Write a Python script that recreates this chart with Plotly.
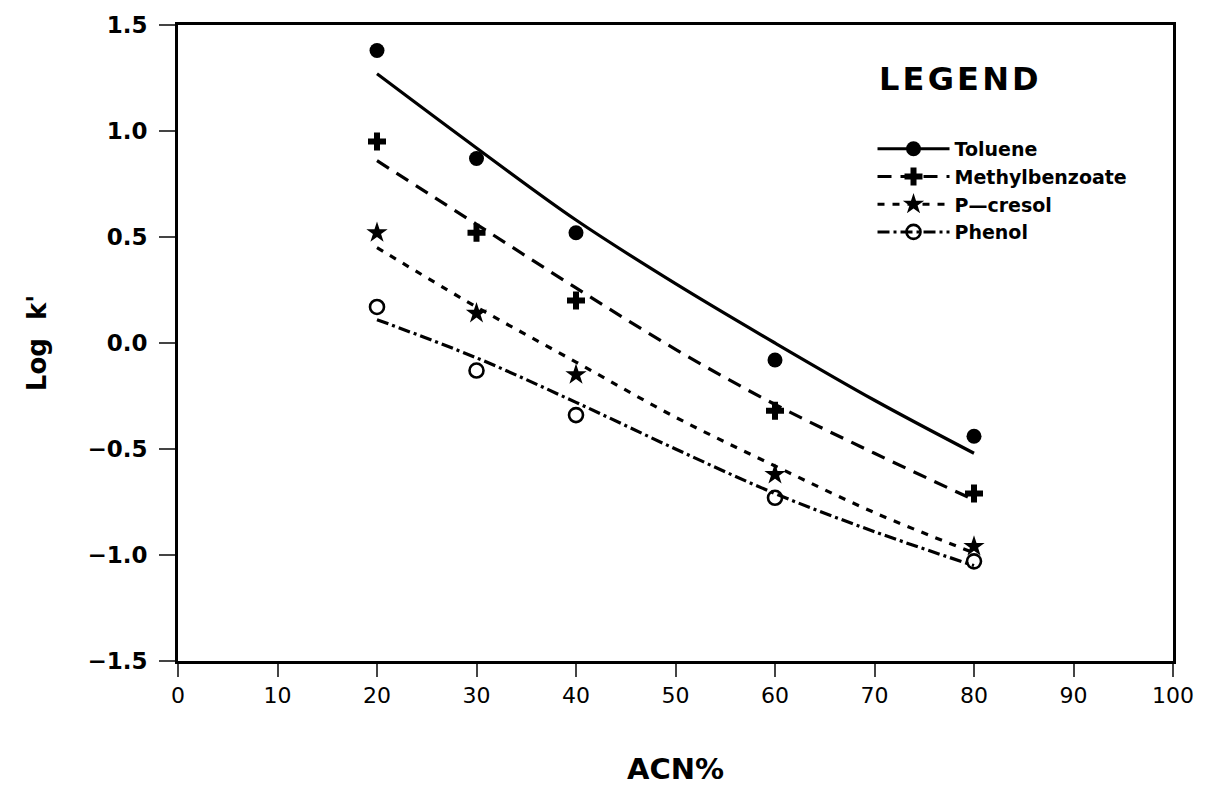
import plotly.graph_objects as go

# Measured retention (log k') versus acetonitrile content
acn = [20, 30, 40, 60, 80]
toluene = [1.38, 0.87, 0.52, -0.08, -0.44]
methylbenzoate = [0.95, 0.52, 0.20, -0.32, -0.71]
p_cresol = [0.52, 0.14, -0.15, -0.62, -0.96]
phenol = [0.17, -0.13, -0.34, -0.73, -1.03]

# Fitted curves, read at 10 % steps
fit_acn = [20, 30, 40, 50, 60, 70, 80]
toluene_fit = [1.27, 0.92, 0.58, 0.28, 0.00, -0.27, -0.52]
methylbenzoate_fit = [0.86, 0.56, 0.26, -0.03, -0.29, -0.52, -0.74]
p_cresol_fit = [0.45, 0.17, -0.09, -0.35, -0.58, -0.80, -0.99]
phenol_fit = [0.11, -0.07, -0.28, -0.50, -0.71, -0.89, -1.05]

x_ticks = [0, 10, 20, 30, 40, 50, 60, 70, 80, 90, 100]
y_ticks = [-1.5, -1.0, -0.5, 0.0, 0.5, 1.0, 1.5]

series = [
    ("Toluene", toluene, toluene_fit, "solid", "circle", 15),
    ("Methylbenzoate", methylbenzoate, methylbenzoate_fit, "14px,9px", "cross", 15),
    ("P\u2014cresol", p_cresol, p_cresol_fit, "7px,8px", "star", 16),
    ("Phenol", phenol, phenol_fit, "12px,4px,3px,4px", "circle-open", 14),
]

FONT = "DejaVu Sans, Verdana, sans-serif"

fig = go.Figure()
for name, pts, fit, dash, symbol, size in series:
    fig.add_trace(go.Scatter(
        x=fit_acn, y=fit, mode="lines", line=dict(color="black", width=3.2, dash=dash, shape="spline"),
        showlegend=False, hoverinfo="skip",
    ))
    if symbol == "circle-open":
        marker = dict(symbol=symbol, size=size, color="black", line=dict(color="black", width=2.6))
    else:
        marker = dict(symbol=symbol, size=size, color="black", line=dict(width=0))
    fig.add_trace(go.Scatter(x=acn, y=pts, mode="markers", marker=marker, showlegend=False))
    # legend sample: line with marker
    fig.add_trace(go.Scatter(
        x=[None], y=[None], mode="lines+markers", name=name,
        line=dict(color="black", width=3, dash=dash), marker=marker,
    ))

fig.add_annotation(
    text="\u200a".join("LEGEND"), xref="paper", yref="paper", x=0.703, y=0.915,
    xanchor="left", yanchor="middle", showarrow=False, font=dict(size=32, weight="bold"),
)

fig.update_layout(
    width=1214, height=793,
    margin=dict(l=178, r=41, t=22, b=131),
    paper_bgcolor="white", plot_bgcolor="white",
    font=dict(family=FONT, color="black", size=20, weight="bold"),
    legend=dict(
        x=0.698, y=0.835, xanchor="left", yanchor="top",
        font=dict(size=19), bgcolor="rgba(0,0,0,0)", itemwidth=72, tracegroupgap=0,
    ),
    xaxis=dict(
        range=[0, 100], tickvals=x_ticks, ticks="outside", ticklen=13, tickwidth=2,
        showline=True, linewidth=3, linecolor="black", mirror=True, showgrid=False, zeroline=False,
        title=dict(text="ACN%", font=dict(size=29), standoff=52), tickfont=dict(size=22, weight="normal"),
    ),
    yaxis=dict(
        range=[-1.5, 1.5], tickvals=y_ticks, tickformat=".1f", ticks="outside", ticklen=16, tickwidth=2,
        ticklabelstandoff=7,
        showline=True, linewidth=3, linecolor="black", mirror=True, showgrid=False, zeroline=False,
        title=dict(text="Log  k'", font=dict(size=26), standoff=34), tickfont=dict(size=23),
    ),
)

fig.write_html("out.html")
